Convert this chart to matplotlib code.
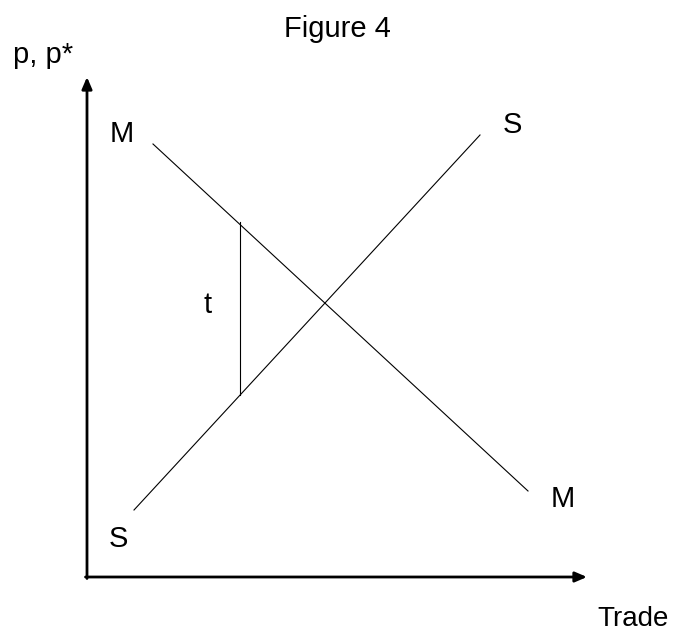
import matplotlib.pyplot as plt

plt.rcParams['font.family'] = ['Liberation Sans', 'DejaVu Sans']

# curve end points (trade quantity, price)
m_q = [1.32, 8.82]
m_p = [8.66, 1.72]
s_q = [0.94, 7.86]
s_p = [1.34, 8.84]
# tariff wedge
t_q = [3.06, 3.06]
t_p = [3.64, 7.10]

labels = ["M", "S", "t", "M", "S"]
label_q = [0.70, 8.50, 2.42, 9.52, 0.62]
label_p = [8.70, 8.88, 5.28, 1.40, 0.60]

fig = plt.figure(figsize=(6.78, 6.33), dpi=100)
ax = fig.add_axes([87 / 678, 56 / 633, 500 / 678, 500 / 633])
ax.set_xlim(0, 10)
ax.set_ylim(0, 10)
ax.axis("off")

ax.plot(m_q, m_p, color="black", linewidth=0.8)
ax.plot(s_q, s_p, color="black", linewidth=0.8)
ax.plot(t_q, t_p, color="black", linewidth=0.8)

arrow = dict(arrowstyle="-|>,head_length=0.7,head_width=0.3", color="black",
             linewidth=2, shrinkA=0, shrinkB=0)
ax.annotate("", xy=(0, 10), xytext=(0, -0.03), arrowprops=arrow, annotation_clip=False)
ax.annotate("", xy=(10, 0), xytext=(-0.03, 0), arrowprops=arrow, annotation_clip=False)

fs = 21
for s, q, p in zip(labels, label_q, label_p):
    ax.text(q, p, s, fontsize=fs, ha="center", va="baseline")

ax.text(10.92, -0.97, "Trade", fontsize=20, ha="center", va="baseline", clip_on=False)
ax.text(-0.88, 10.28, "p, p*", fontsize=fs, ha="center", va="baseline", clip_on=False)
ax.text(5.01, 10.80, "Figure 4", fontsize=fs, ha="center", va="baseline", clip_on=False)

fig.savefig("out.png", dpi=100)
